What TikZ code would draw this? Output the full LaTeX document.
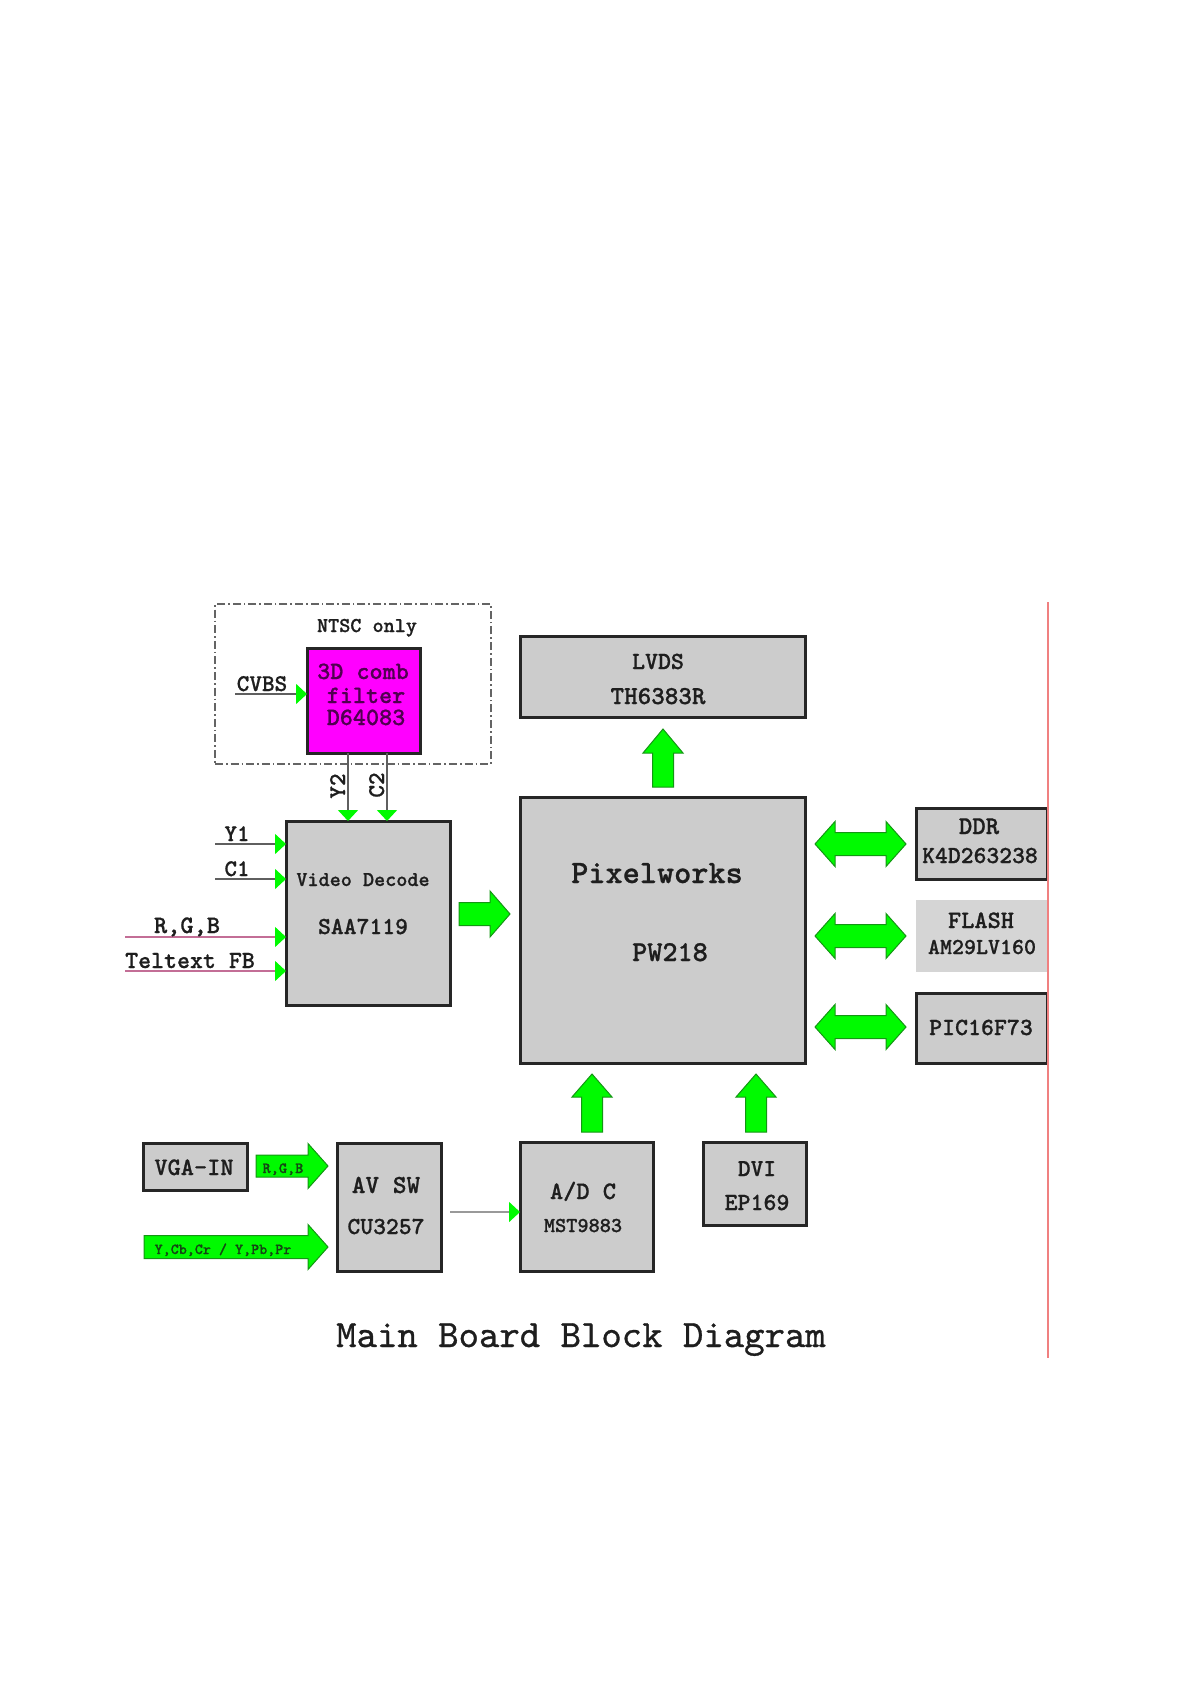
\documentclass[tikz,border=0pt]{standalone}
\usepackage{fontspec}
\newfontfamily\lblfont{lmmonolt10-bold.otf}[FakeBold=0.8]
\newfontfamily\capfont{lmmono10-regular.otf}[FakeBold=0.8]
\usetikzlibrary{arrows.meta}
\definecolor{boxgray}{RGB}{204,204,204}
\definecolor{flashgray}{RGB}{213,213,213}
\definecolor{bgreen}{RGB}{0,250,0}
\definecolor{bgreenline}{RGB}{20,150,20}
\definecolor{mag}{RGB}{255,0,255}
\definecolor{magtext}{RGB}{80,0,80}
\definecolor{txtc}{RGB}{30,30,30}
\definecolor{sigline}{RGB}{95,95,95}
\definecolor{pinkline}{RGB}{195,110,150}
\definecolor{redline}{RGB}{240,128,128}
\definecolor{dashc}{RGB}{100,100,100}
\definecolor{darkg}{RGB}{20,70,20}
\newcommand\fsz[1]{\fontsize{\fpeval{#1*1.1429}}{\fpeval{#1*1.2}}\selectfont}
\newcommand\blkR[6]{\filldraw[blk] (#1,#3-#4) -- (#2-#6,#3-#4) -- (#2-#6,#3-#5) -- (#2,#3) -- (#2-#6,#3+#5) -- (#2-#6,#3+#4) -- (#1,#3+#4) -- cycle;}
\newcommand\blkU[6]{\filldraw[blk] (#1-#4,#3) -- (#1-#4,#2+#6) -- (#1-#5,#2+#6) -- (#1,#2) -- (#1+#5,#2+#6) -- (#1+#4,#2+#6) -- (#1+#4,#3) -- cycle;}
\newcommand\blkD[6]{\filldraw[blk] (#1,#3) -- (#1+#6,#3-#5) -- (#1+#6,#3-#4) -- (#2-#6,#3-#4) -- (#2-#6,#3-#5) -- (#2,#3) -- (#2-#6,#3+#5) -- (#2-#6,#3+#4) -- (#1+#6,#3+#4) -- (#1+#6,#3+#5) -- cycle;}
\begin{document}
\begin{tikzpicture}[x=0.5pt,y=-0.5pt,
  chip/.style={draw=black!85, line width=1.5pt, fill=boxgray, inner sep=0, outer sep=0},
  blk/.style={fill=bgreen, draw=bgreenline, line width=0.5pt, line join=miter},
  lbl/.style={text=txtc, inner sep=0, outer sep=0, text height=0.6em, text depth=0pt, anchor=center},
  sig/.style={draw=sigline, line width=0.8pt, -{Triangle[length=5.5pt,width=10pt,color=bgreen]}},
  psig/.style={draw=pinkline, line width=0.7pt, -{Triangle[length=5.5pt,width=10pt,color=bgreen]}}]
\useasboundingbox (0,0) rectangle (1190,1684);

% NTSC dashed region
\node[draw=dashc, line width=0.7pt, dash pattern=on 4pt off 1.5pt on 0.8pt off 1.5pt, minimum width=138pt, minimum height=80pt, inner sep=0] (ntsc) at (353,684) {};
\node[lbl, font=\lblfont\fsz{9.25}] (ntscT) at (367,626) {NTSC only};

% boxes
\node[chip, fill=mag, minimum width=56.5pt, minimum height=52.5pt] (comb) at (363.5,700.5) {};
\node[chip, minimum width=82pt, minimum height=92pt] (vd) at (368,913) {};
\node[chip, minimum width=142.5pt, minimum height=40.5pt] (lvds) at (662.5,676.5) {};
\node[chip, minimum width=142.5pt, minimum height=133pt] (pw) at (662.5,930) {};
\node[chip, minimum width=65.3pt, minimum height=35.5pt] (ddr) at (981.7,843.5) {};
\node[fill=flashgray, inner sep=0, minimum width=66pt, minimum height=36pt] (flash) at (982,936) {};
\node[chip, minimum width=65.3pt, minimum height=35pt] (pic) at (981.7,1028) {};
\node[chip, minimum width=52pt, minimum height=23.5pt] (vga) at (195,1166.5) {};
\node[chip, minimum width=52pt, minimum height=64pt] (avsw) at (389,1207) {};
\node[chip, minimum width=66.5pt, minimum height=64.5pt] (adc) at (586.5,1206.5) {};
\node[chip, minimum width=51.5pt, minimum height=41.5pt] (dvi) at (754.5,1183.5) {};

% comb filter text
\node[lbl, text=magtext, font=\lblfont\fsz{10.9}] (combA) at (363,673) {3D comb};
\node[lbl, text=magtext, font=\lblfont\fsz{10.9}] (combB) at (366,697) {filter};
\node[lbl, text=magtext, font=\lblfont\fsz{10.9}] (combC) at (366,719) {D64083};

% CVBS input
\coordinate (cvbsS) at (235,694);
\draw[sig] (cvbsS) -- (cvbsS -| comb.west);
\node[lbl, font=\lblfont\fsz{10.5}] (cvbsT) at (262,685) {CVBS};

% Y2 / C2
\coordinate (y2x) at (348,0);
\coordinate (c2x) at (387,0);
\draw[sig] (comb.south -| y2x) -- (vd.north -| y2x);
\draw[sig] (comb.south -| c2x) -- (vd.north -| c2x);
\node[lbl, rotate=90, font=\lblfont\fsz{10.5}] (y2T) at (339,786) {Y2};
\node[lbl, rotate=90, font=\lblfont\fsz{10.5}] (c2T) at (378,785) {C2};

% left inputs of video decoder
\coordinate (y1S) at (215,844);
\coordinate (c1S) at (215,879);
\coordinate (rgbS) at (125,937);
\coordinate (ttS) at (125,971);
\draw[sig] (y1S) -- (y1S -| vd.west);
\draw[sig] (c1S) -- (c1S -| vd.west);
\draw[psig] (rgbS) -- (rgbS -| vd.west);
\draw[psig] (ttS) -- (ttS -| vd.west);
\node[lbl, font=\lblfont\fsz{10.4}] (y1T) at (237,835) {Y1};
\node[lbl, font=\lblfont\fsz{10.4}] (c1T) at (237,870) {C1};
\node[lbl, font=\lblfont\fsz{11}] (rgbT) at (187,927) {R,G,B};
\node[lbl, font=\lblfont\fsz{10.8}] (ttT) at (190,962) {Teltext FB};

% video decoder text
\node[lbl, font=\lblfont\fsz{9.25}] (vdA) at (363,880) {Video Decode};
\node[lbl, font=\lblfont\fsz{10.7}] (vdB) at (363,928) {SAA7119};

% LVDS text
\node[lbl, font=\lblfont\fsz{10.8}] (lvA) at (658,663) {LVDS};
\node[lbl, font=\lblfont\fsz{11.3}] (lvB) at (658,698) {TH6383R};

% Pixelworks text
\node[lbl, font=\lblfont\fsz{14.3}] (pwA) at (657,877) {Pixelworks};
\node[lbl, font=\lblfont\fsz{12.6}] (pwB) at (670,955) {PW218};

% right side text
\node[lbl, font=\lblfont\fsz{11.2}] (ddrA) at (979,828) {DDR};
\node[lbl, font=\lblfont\fsz{10.7}] (ddrB) at (980,857) {K4D263238};
\node[lbl, font=\lblfont\fsz{11}] (flA) at (981,922) {FLASH};
\node[lbl, font=\lblfont\fsz{10}] (flB) at (982,948) {AM29LV160};
\node[lbl, font=\lblfont\fsz{10.8}] (picT) at (981,1029) {PIC16F73};

% lower left
\node[lbl, font=\lblfont\fsz{11}] (vgaT) at (194,1169) {VGA-IN};
\node[lbl, font=\lblfont\fsz{11.4}] (avA) at (386,1187) {AV SW};
\node[lbl, font=\lblfont\fsz{10.7}] (avB) at (386,1228) {CU3257};
\node[lbl, font=\lblfont\fsz{11}] (adA) at (583,1193) {A/D C};
\node[lbl, font=\lblfont\fsz{9.3}] (adB) at (583,1226) {MST9883};
\node[lbl, font=\lblfont\fsz{10.6}] (dvA) at (757,1170) {DVI};
\node[lbl, font=\lblfont\fsz{10.8}] (dvB) at (757,1204) {EP169};

% AV SW -> A/D C
\coordinate (avO) at (450,1212);
\draw[sig, draw=black!40] (avO) -- (avO -| adc.west);

% block arrows
\blkR{459}{510}{914}{11.5}{23}{20}
\blkU{663}{729}{787}{10.5}{20}{24}
\blkU{592}{1074}{1132}{10.5}{20}{23}
\blkU{756}{1074}{1132}{10.5}{20}{23}
\blkD{815}{906}{844}{11.5}{22.5}{20}
\blkD{815}{906}{936}{11.5}{22.5}{20}
\blkD{815}{906}{1027}{11.5}{22.5}{20}
\blkR{256}{328}{1166}{11}{22.5}{20}
\blkR{144}{328}{1247}{11.5}{22.5}{20}
\node[lbl, text=darkg, font=\lblfont\fsz{6.8}] (rgbS2) at (283,1167) {R,G,B};
\node[lbl, text=darkg, font=\lblfont\fsz{6.7}] (ycbT) at (223,1248) {Y,Cb,Cr / Y,Pb,Pr};

% red margin line
\coordinate (redTop) at (1048,602);
\coordinate (redBot) at (1048,1358);
\draw[redline, line width=1pt] (redTop) -- (redBot);

% caption
\node[lbl, font=\capfont\fsz{17}] (cap) at (581,1341) {Main Board Block Diagram};
\end{tikzpicture}
\end{document}
